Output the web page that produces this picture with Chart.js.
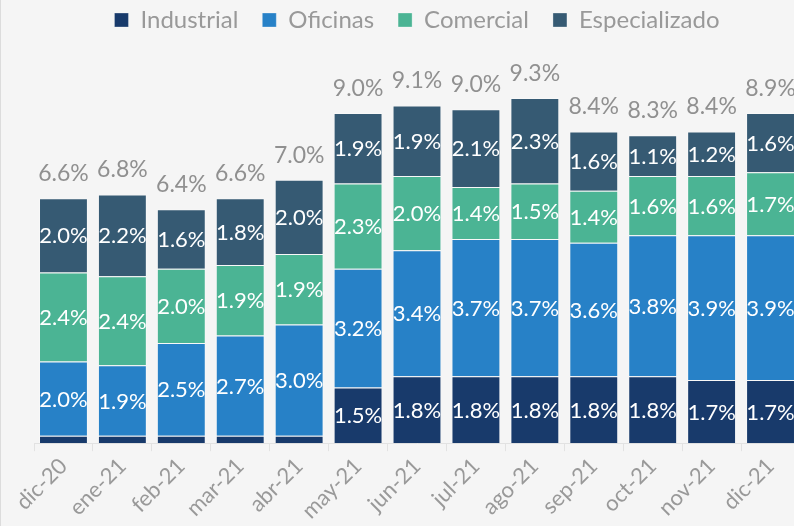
<!DOCTYPE html>
<html>
<head>
<meta charset="utf-8">
<script src="https://cdn.jsdelivr.net/npm/chart.js@4"></script>
<style>
html,body{margin:0;padding:0;background:#f5f5f5;overflow:hidden;}
#wrap{width:825px;height:526px;border-left:1px solid #dcdcdc;box-sizing:border-box;}
</style>
</head>
<body>
<div id="wrap"><canvas id="chart" width="824" height="526"></canvas></div>
<script>
// datos
const meses = ['dic-20','ene-21','feb-21','mar-21','abr-21','may-21','jun-21','jul-21','ago-21','sep-21','oct-21','nov-21','dic-21'];
const industrial = [0.2,0.2,0.2,0.2,0.2,1.5,1.8,1.8,1.8,1.8,1.8,1.7,1.7];
const oficinas = [2.0,1.9,2.5,2.7,3.0,3.2,3.4,3.7,3.7,3.6,3.8,3.9,3.9];
const comercial = [2.4,2.4,2.0,1.9,1.9,2.3,2.0,1.4,1.5,1.4,1.6,1.6,1.7];
const especializado = [2.0,2.2,1.6,1.8,2.0,1.9,1.9,2.1,2.3,1.6,1.1,1.2,1.6];
const totales = [6.6,6.8,6.4,6.6,7.0,9.0,9.1,9.0,9.3,8.4,8.3,8.4,8.9];

const FONT = 'Lato, "Open Sans", sans-serif';

const etiquetas = {
  id:'etiquetas',
  afterDatasetsDraw(chart){
    const ctx = chart.ctx;
    ctx.save();
    ctx.textAlign = 'center';
    ctx.textBaseline = 'middle';
    ctx.font = '22px ' + FONT;
    ctx.fillStyle = '#ffffff';
    chart.data.datasets.forEach((ds, i) => {
      const meta = chart.getDatasetMeta(i);
      meta.data.forEach((bar, j) => {
        const v = ds.data[j];
        if (v < 0.5) return;
        ctx.fillText(v.toFixed(1) + '%', bar.x, (bar.y + bar.base) / 2 + 1);
      });
    });
    const top = chart.getDatasetMeta(chart.data.datasets.length - 1);
    ctx.fillStyle = '#909090';
    ctx.font = '23px ' + FONT;
    ctx.textBaseline = 'bottom';
    top.data.forEach((bar, j) => {
      ctx.fillText(totales[j].toFixed(1) + '%', bar.x, bar.y - 13);
    });
    ctx.restore();
  }
};

Chart.defaults.font.family = FONT;

new Chart(document.getElementById('chart'), {
  type:'bar',
  data:{
    labels:meses,
    datasets:[
      {label:'Industrial', data:industrial, backgroundColor:'#183a6b'},
      {label:'Oficinas', data:oficinas, backgroundColor:'#2781c7'},
      {label:'Comercial', data:comercial, backgroundColor:'#4bb494'},
      {label:'Especializado', data:especializado, backgroundColor:'#365a73'}
    ]
  },
  options:{
    responsive:false,
    animation:false,
    devicePixelRatio:1,
    layout:{padding:{left:33, right:25, top:-16, bottom:0}},
    datasets:{bar:{categoryPercentage:1, barPercentage:0.83, borderWidth:1, borderColor:'rgba(255,255,255,0.3)'}},
    plugins:{
      legend:{
        position:'top',
        labels:{color:'#999999', font:{size:24}, boxWidth:14, boxHeight:14, padding:24}
      },
      tooltip:{enabled:false}
    },
    scales:{
      x:{
        stacked:true,
        grid:{drawOnChartArea:false, drawTicks:true, tickLength:8, color:'#e2e2e2', offset:true},
        border:{display:true, color:'#e2e2e2'},
        ticks:{color:'#999999', font:{size:22}, minRotation:45, maxRotation:45, padding:2}
      },
      y:{
        stacked:true,
        display:false,
        min:0,
        max:10.81
      }
    }
  },
  plugins:[etiquetas]
});
</script>
</body>
</html>
